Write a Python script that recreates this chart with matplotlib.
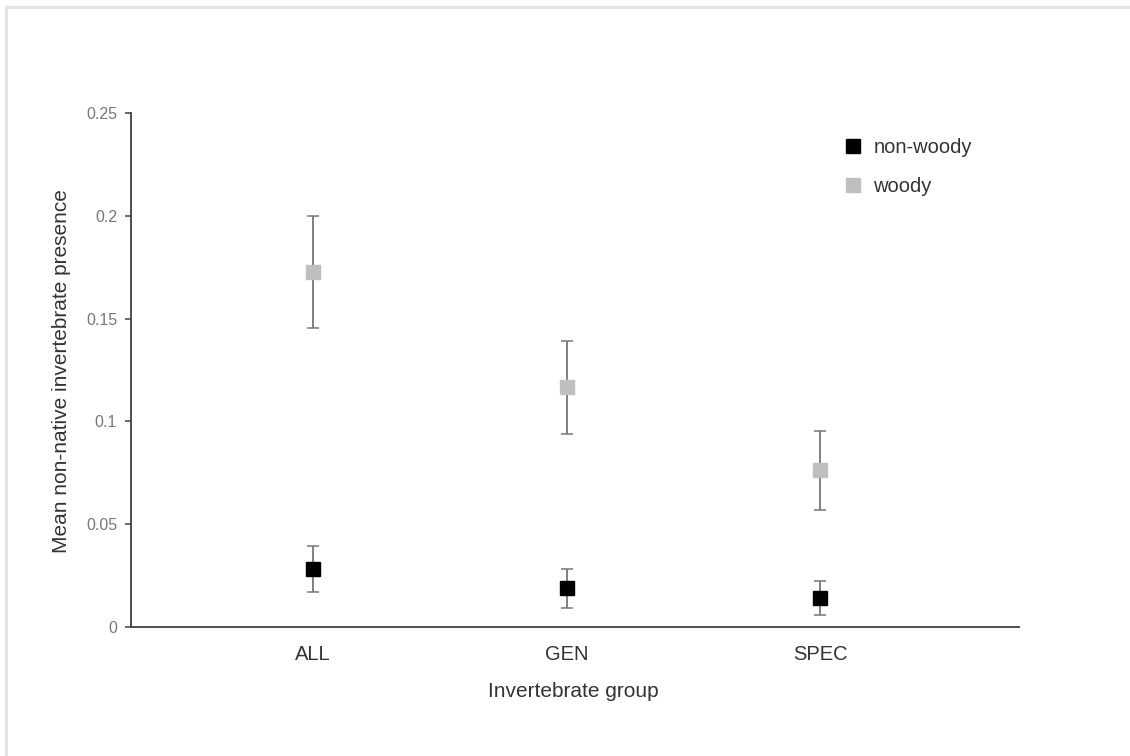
import matplotlib
matplotlib.use("Agg")
import matplotlib.pyplot as plt
from matplotlib.lines import Line2D

plt.rcParams['font.family'] = ['Liberation Sans', 'DejaVu Sans']

# mean presence and error per invertebrate group
groups = ["ALL", "GEN", "SPEC"]
nonwoody_mean = [0.0282, 0.0189, 0.0141]
nonwoody_err = [0.0114, 0.0095, 0.0083]
woody_mean = [0.1728, 0.1165, 0.0762]
woody_err = [0.0273, 0.0228, 0.0192]

x = list(range(len(groups)))

fig = plt.figure(figsize=(11.3, 7.56), dpi=100)
ax = fig.add_axes([0.1159, 0.1706, 0.7859, 0.6800])

ax.errorbar(x, woody_mean, yerr=woody_err, fmt='s', color='#bfbfbf', ecolor='#808080',
            elinewidth=1.4, capsize=4, capthick=1.2, markersize=10, label='woody', zorder=3)
ax.errorbar(x, nonwoody_mean, yerr=nonwoody_err, fmt='s', color='black', ecolor='#808080',
            elinewidth=1.4, capsize=4, capthick=1.2, markersize=10, label='non-woody', zorder=3)

ax.set_xlim(-0.718, 2.785)
ax.set_ylim(0, 0.25)
ax.set_xticks(x)
ax.set_xticklabels(groups)
ax.set_yticks([0, 0.05, 0.1, 0.15, 0.2, 0.25])
ax.set_yticklabels(['0', '0.05', '0.1', '0.15', '0.2', '0.25'])

for side in ['top', 'right']:
    ax.spines[side].set_visible(False)
for side in ['left', 'bottom']:
    ax.spines[side].set_color('#404040')
    ax.spines[side].set_linewidth(1.3)

ax.tick_params(axis='x', length=0, pad=13, labelsize=14.5, labelcolor='#333333')
ax.tick_params(axis='y', length=4, width=1.1, color='#404040', pad=6,
               labelsize=11.5, labelcolor='#777777')

ax.set_xlabel('Invertebrate group', fontsize=15, color='#333333')
ax.set_ylabel('Mean non-native invertebrate presence', fontsize=15, color='#333333')
ax.xaxis.set_label_coords(0.498, -0.106)
ax.yaxis.set_label_coords(-0.068, 0.497)

# legend: markers only, non-woody first
handles, labels = ax.get_legend_handles_labels()
order = [1, 0]
leg = ax.legend([handles[i][0] for i in order], [labels[i] for i in order],
                loc='upper left', bbox_to_anchor=(0.746, 0.817),
                bbox_transform=fig.transFigure, frameon=False, fontsize=14.5,
                handlelength=1.0, handletextpad=0.5, labelspacing=1.0,
                borderpad=0, borderaxespad=0)
for t in leg.get_texts():
    t.set_color('#333333')

# light frame along the top and left edge
fig.add_artist(Line2D([6 / 1130, 1], [1 - 7 / 756, 1 - 7 / 756], color='#e3e3e3',
                      linewidth=2.2, transform=fig.transFigure))
fig.add_artist(Line2D([6 / 1130, 6 / 1130], [0, 1 - 7 / 756], color='#e3e3e3',
                      linewidth=2.2, transform=fig.transFigure))

fig.savefig('out.png', dpi=100, facecolor='white')
